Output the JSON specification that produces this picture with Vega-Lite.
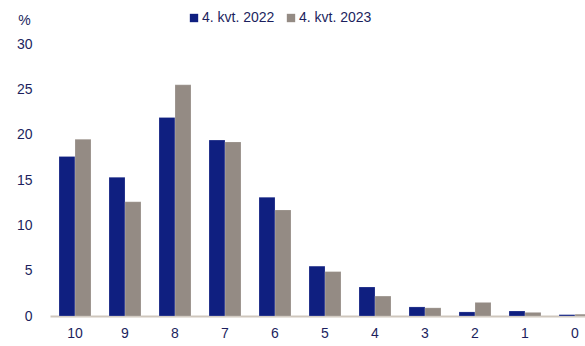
{
  "$schema": "https://vega.github.io/schema/vega-lite/v6.json",
  "width": 535,
  "height": 272,
  "autosize": {"type": "none"},
  "padding": {"left": 50, "top": 44, "right": 0, "bottom": 30},
  "background": "white",
  "config": {
    "view": {"stroke": null},
    "font": "Liberation Sans",
    "axis": {"labelFont": "Liberation Sans", "labelFontSize": 14, "labelColor": "#1c1f5e", "titleFont": "Liberation Sans"},
    "legend": {"labelFont": "Liberation Sans", "labelFontSize": 14, "labelColor": "#1c1f5e"}
  },
  "data": {
    "values": [
      {"k": "10", "s": "4. kvt. 2022", "v": 17.6},
      {"k": "10", "s": "4. kvt. 2023", "v": 19.5},
      {"k": "9", "s": "4. kvt. 2022", "v": 15.3},
      {"k": "9", "s": "4. kvt. 2023", "v": 12.6},
      {"k": "8", "s": "4. kvt. 2022", "v": 21.9},
      {"k": "8", "s": "4. kvt. 2023", "v": 25.5},
      {"k": "7", "s": "4. kvt. 2022", "v": 19.4},
      {"k": "7", "s": "4. kvt. 2023", "v": 19.2},
      {"k": "6", "s": "4. kvt. 2022", "v": 13.1},
      {"k": "6", "s": "4. kvt. 2023", "v": 11.7},
      {"k": "5", "s": "4. kvt. 2022", "v": 5.5},
      {"k": "5", "s": "4. kvt. 2023", "v": 4.9},
      {"k": "4", "s": "4. kvt. 2022", "v": 3.2},
      {"k": "4", "s": "4. kvt. 2023", "v": 2.2},
      {"k": "3", "s": "4. kvt. 2022", "v": 1.0},
      {"k": "3", "s": "4. kvt. 2023", "v": 0.9},
      {"k": "2", "s": "4. kvt. 2022", "v": 0.45},
      {"k": "2", "s": "4. kvt. 2023", "v": 1.5},
      {"k": "1", "s": "4. kvt. 2022", "v": 0.55},
      {"k": "1", "s": "4. kvt. 2023", "v": 0.4},
      {"k": "0", "s": "4. kvt. 2022", "v": 0.15},
      {"k": "0", "s": "4. kvt. 2023", "v": 0.2}
    ]
  },
  "mark": {"type": "bar", "stroke": "#ffffff", "strokeWidth": 0.5, "strokeOpacity": 0.4},
  "encoding": {
    "x": {
      "field": "k", "type": "nominal", "sort": null,
      "scale": {"range": [0, 550], "paddingInner": 0.36, "paddingOuter": 0.18},
      "axis": {"title": null, "labelAngle": 0, "ticks": false, "domainColor": "#cfc7bd", "domainWidth": 2, "labelPadding": 10, "grid": false}
    },
    "xOffset": {"field": "s", "type": "nominal"},
    "y": {
      "field": "v", "type": "quantitative",
      "scale": {"domain": [0, 30], "nice": false},
      "axis": {"title": "%", "titleAngle": 0, "titleX": -26, "titleY": -24, "titleAlign": "center", "titleBaseline": "middle", "titleFontSize": 14, "titleFontWeight": "normal", "titleColor": "#1c1f5e", "values": [0, 5, 10, 15, 20, 25, 30], "domain": false, "ticks": false, "grid": false, "labelPadding": 18}
    },
    "color": {
      "field": "s", "type": "nominal",
      "scale": {"domain": ["4. kvt. 2022", "4. kvt. 2023"], "range": ["#0f1f80", "#948b84"]},
      "legend": {"title": null, "orient": "none", "direction": "horizontal", "legendX": 137, "legendY": -33, "symbolType": "square", "symbolSize": 70, "symbolStrokeWidth": 0, "labelOffset": 1, "columnPadding": 9}
    }
  }
}
